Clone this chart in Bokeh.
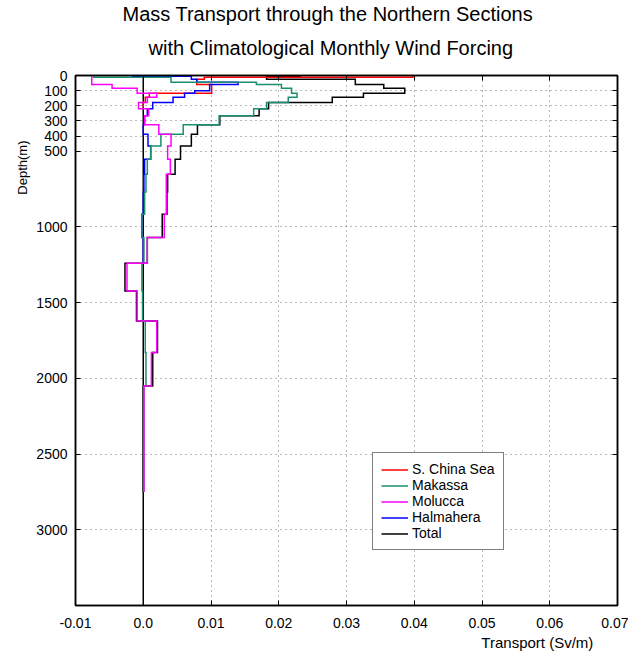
import math
from bokeh.plotting import figure
from bokeh.models import (Range1d, FixedTicker, LinearAxis, Span, Title,
                          Legend, LegendItem)
from bokeh.embed import file_html
from bokeh.resources import INLINE

# ---------------- data ----------------
depth_levels = [0, 5, 12, 25, 45, 60, 84, 100, 117, 143, 178, 220, 266, 326,
                388, 465, 553, 652, 770, 916, 1070, 1240, 1423, 1621, 1830,
                2050, 2750]

s_china_sea = [0.0398, 0.0398, 0.0090, 0.0079, 0.0079, 0.0101, 0.0101,
               0.0101, 0.0009, 0.0003, 0.0000]
makassa = [-0.0073, -0.0073, 0.0041, 0.0041, 0.0167, 0.0204, 0.0219, 0.0219,
           0.0227, 0.0214, 0.0182, 0.0163, 0.0112, 0.0059, 0.0026, 0.0011,
           0.0006, 0.0004, 0.0002, -0.0002, 0.0001, -0.0002, -0.0001, 0.0003,
           0.0004, 0.0001]
molucca = [-0.0076, -0.0076, -0.0076, -0.0076, -0.0076, -0.0046, -0.0009,
           -0.0009, 0.0020, 0.0006, -0.0007, 0.0008, 0.0002, 0.0023, 0.0041,
           0.0036, 0.0040, 0.0034, 0.0034, 0.0031, 0.0006, -0.0024, -0.0009,
           0.0020, 0.0012, 0.0001]
halmahera = [-0.0015, 0.0071, 0.0071, 0.0079, 0.0140, 0.0098, 0.0098,
             0.0076, 0.0061, 0.0044, 0.0014, 0.0006, 0.0002, 0.0000, 0.0007,
             0.0011, 0.0002, 0.0001, 0.0000, -0.0002, 0.0000]
total = [0.0232, 0.0182, 0.0182, 0.0313, 0.0313, 0.0355, 0.0386, 0.0386,
         0.0325, 0.0279, 0.0185, 0.0171, 0.0113, 0.0080, 0.0071, 0.0055,
         0.0047, 0.0036, 0.0035, 0.0028, 0.0006, -0.0027, -0.0010, 0.0021,
         0.0014, 0.0000]

series_names = ["S. China Sea", "Makassa", "Molucca", "Halmahera", "Total"]
series_colors = ["#ff0000", "#1a8f70", "#ff00ff", "#0000ff", "#000000"]

x_ticks = [-0.01, 0.0, 0.01, 0.02, 0.03, 0.04, 0.05, 0.06, 0.07]
x_tick_labels = ["-0.01", "0.0", "0.01", "0.02", "0.03", "0.04", "0.05",
                 "0.06", "0.07"]
y_ticks = [0, 100, 200, 300, 400, 500, 1000, 1500, 2000, 2500, 3000]
y_tick_labels = ["0", "100", "200", "300", "400", "500", "1000", "1500",
                 "2000", "2500", "3000"]

title_lines = ["Mass Transport through the Northern Sections",
               "with Climatological Monthly Wind Forcing"]
x_label = "Transport  (Sv/m)"
y_label = "Depth(m)"

FONT = "Liberation Sans"


def steps(levels, vals):
    xs, ys = [], []
    for i, v in enumerate(vals):
        xs += [v, v]
        ys += [levels[i], levels[i + 1]]
    return xs, ys


# ---------------- figure ----------------
p = figure(width=628, height=653, output_backend="svg", toolbar_location=None,
           x_range=Range1d(-0.01, 0.07), y_range=Range1d(3500, 0),
           min_border_left=75, min_border_right=11, min_border_top=75,
           min_border_bottom=48, title=None)
p.outline_line_color = "black"
p.outline_line_width = 1.5
p.background_fill_color = "white"
p.border_fill_color = "white"

xt = FixedTicker(ticks=x_ticks, minor_ticks=[])
yt = FixedTicker(ticks=y_ticks, minor_ticks=[])

for ax in p.xaxis:
    ax.ticker = xt
    ax.major_label_overrides = dict(zip(x_ticks, x_tick_labels))
for ax in p.yaxis:
    ax.ticker = yt
    ax.major_label_overrides = dict(zip(y_ticks, y_tick_labels))

for ax in list(p.xaxis) + list(p.yaxis):
    ax.major_tick_in = 5
    ax.major_tick_out = 0
    ax.minor_tick_line_color = None
    ax.axis_line_width = 1.5
    ax.axis_line_color = "black"
    ax.major_tick_line_color = "black"
    ax.major_tick_line_width = 1
    ax.major_label_text_font = FONT
    ax.major_label_text_font_size = "14px"
    ax.major_label_text_color = "black"
    ax.axis_label = None
p.xaxis.major_label_standoff = 12
p.yaxis.major_label_standoff = 8

# mirror axes (top / right) with inward ticks and blank labels
top_ax = LinearAxis(ticker=xt, major_tick_in=5, major_tick_out=0,
                    axis_line_width=1.5, minor_tick_line_color=None,
                    major_label_overrides={t: "" for t in x_ticks},
                    major_label_standoff=0)
right_ax = LinearAxis(ticker=yt, major_tick_in=5, major_tick_out=0,
                      axis_line_width=1.5, minor_tick_line_color=None,
                      major_label_overrides={t: "" for t in y_ticks},
                      major_label_standoff=0)
p.add_layout(top_ax, "above")
p.add_layout(right_ax, "right")

for g in list(p.xgrid) + list(p.ygrid):
    g.grid_line_color = "black"
    g.grid_line_alpha = 0.55
    g.grid_line_dash = "1 4"
    g.grid_line_width = 1
p.xgrid.ticker = xt
p.ygrid.ticker = yt

p.add_layout(Span(location=0, dimension="height", line_color="black",
                  line_width=1.5, level="underlay"))

data_sets = [
    (s_china_sea, depth_levels[:len(s_china_sea) + 1]),
    (makassa, depth_levels[:len(makassa) + 1]),
    (molucca, depth_levels[:len(molucca) + 1]),
    (halmahera, depth_levels[:len(halmahera) + 1]),
    (total, depth_levels[:len(total) + 1]),
]
renderers = {}
draw_order = [4, 0, 3, 1, 2]
for idx in draw_order:
    vals, lev = data_sets[idx]
    xs, ys = steps(lev, vals)
    r = p.line(xs, ys, line_color=series_colors[idx], line_width=1.5,
               line_join="miter")
    renderers[idx] = r

legend = Legend(items=[LegendItem(label=series_names[i], renderers=[renderers[i]])
                       for i in range(5)],
                location=(297, 55), orientation="vertical",
                border_line_color="black", border_line_width=1.5,
                background_fill_color="white", background_fill_alpha=1.0,
                label_text_font=FONT, label_text_font_size="14px",
                label_text_color="black",
                glyph_width=27, glyph_height=15, label_height=15,
                label_standoff=4, spacing=0, padding=8, margin=0)
p.add_layout(legend, "center")

# titles (above): first added sits closest to the plot
p.add_layout(Title(text=title_lines[1], align="left", offset=73,
                   text_font=FONT, text_font_size="20px",
                   text_font_style="normal", text_color="black",
                   standoff=33), "above")
p.add_layout(Title(text=title_lines[0], align="left", offset=47,
                   text_font=FONT, text_font_size="20px",
                   text_font_style="normal", text_color="black",
                   standoff=-12), "above")

# axis labels as side titles
p.add_layout(Title(text=x_label, align="right", offset=20,
                   text_font=FONT, text_font_size="15px",
                   text_font_style="normal", text_color="black",
                   standoff=3), "below")
p.add_layout(Title(text=y_label, align="right", offset=65,
                   text_font=FONT, text_font_size="13px",
                   text_font_style="normal", text_color="black",
                   standoff=7), "left")

open("out.html", "w").write(file_html(p, INLINE))
